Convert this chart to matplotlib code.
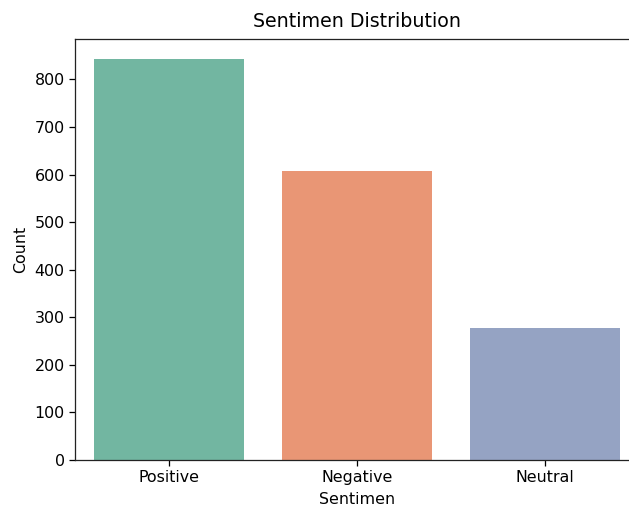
import matplotlib
matplotlib.use("Agg")
import matplotlib.pyplot as plt
import seaborn as sns

categories = ["Positive", "Negative", "Neutral"]
counts = [843, 608, 278]
colors = [sns.desaturate(c, 0.75) for c in sns.color_palette("Set2", 3)]

s = 1.14
plt.rcParams.update({
    "font.size": 10 * s,
    "axes.titlesize": 12 * s,
    "axes.labelsize": 10 * s,
    "xtick.labelsize": 10 * s,
    "ytick.labelsize": 10 * s,
    "xtick.major.size": 3.5 * s,
    "ytick.major.size": 3.5 * s,
    "axes.linewidth": 0.8 * s,
    "xtick.major.width": 0.8 * s,
    "ytick.major.width": 0.8 * s,
    "axes.edgecolor": "#222222",
})

fig = plt.figure(figsize=(6.29, 5.07), dpi=100)
ax = fig.add_axes([75/629, 47/507, 564/629, 421/507])
ax.bar(categories, counts, color=colors, width=0.8)
ax.set_xlim(-0.5, 2.5)
ax.set_ylim(0, max(counts) * 1.05)
ax.spines["right"].set_visible(False)
ax.set_title("Sentimen Distribution", pad=6 * s + 2)
ax.set_xlabel("Sentimen", labelpad=4 * s)
ax.set_ylabel("Count", labelpad=4 * s)
fig.savefig("out.png", dpi=100)
